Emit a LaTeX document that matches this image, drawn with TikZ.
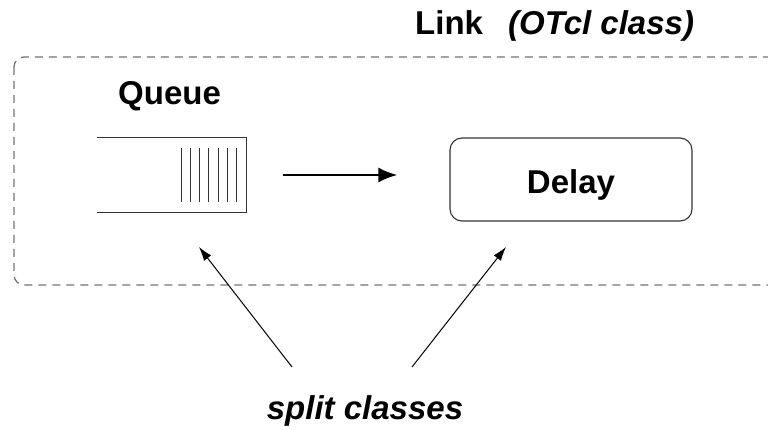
\documentclass[tikz,border=0pt]{standalone}
\usepackage{fontspec}
\setmainfont{Liberation Sans}
\usetikzlibrary{arrows.meta}
\begin{document}
\begin{tikzpicture}[x=1pt,y=-1pt,
  lbl/.style={font=\fontsize{33}{36}\selectfont\bfseries, inner sep=0pt},
  lbli/.style={font=\fontsize{33}{36}\selectfont\bfseries\itshape, inner sep=0pt},
  frame/.style={draw=black!55, line width=1.3pt, dash pattern=on 8pt off 6pt, rounded corners=10pt},
  qline/.style={draw=black!80, line width=1pt},
  boxstyle/.style={draw=black!80, line width=1.1pt, rounded corners=12pt},
  flow/.style={line width=2.6pt, -{Latex[length=19pt,width=15pt]}},
  pointer/.style={line width=1pt, -{Latex[length=14pt,width=9pt]}}]
\useasboundingbox (0,0) rectangle (768,430);

% dashed outline of the Link object (runs off the right edge)
\begin{scope}
\clip (0,0) rectangle (768,430);
\draw[frame] (14,57) rectangle (778,285);
\end{scope}

% titles
\node[lbl, anchor=base west] (link) at (415,35) {Link};
\node[lbli, anchor=base west] (otcl) at (508,35) {(OTcl class)};
\node[lbl, anchor=base west] (qlabel) at (118,105) {Queue};

% queue: open-ended box with packet slots
\node[minimum width=149pt, minimum height=74pt, inner sep=0pt] (queue) at (171.5,175) {};
\draw[qline] (queue.north west) -- (queue.north east) -- (queue.south east) -- (queue.south west);
\foreach \i in {0,...,6}
  \draw[qline] (181+\i*9.3,148) -- (181+\i*9.3,202);

% delay element
\node[boxstyle, minimum width=242pt, minimum height=83pt, inner sep=0pt] (delay) at (571,179.5) {};
\node[lbl, anchor=base] (dlabel) at (571,194) {Delay};

% flow from queue to delay
\draw[flow, shorten <=37pt, shorten >=52pt] (queue.east) -- (queue.east -| delay.west);

% split classes annotation
\node[lbli, anchor=base] (split) at (365,419) {split classes};
\coordinate (s1) at (292,367);
\coordinate (s2) at (412,367);
\coordinate (t1) at (199,247);
\coordinate (t2) at (506,247);
\draw[pointer] (s1) -- (t1);
\draw[pointer] (s2) -- (t2);
\end{tikzpicture}
\end{document}
